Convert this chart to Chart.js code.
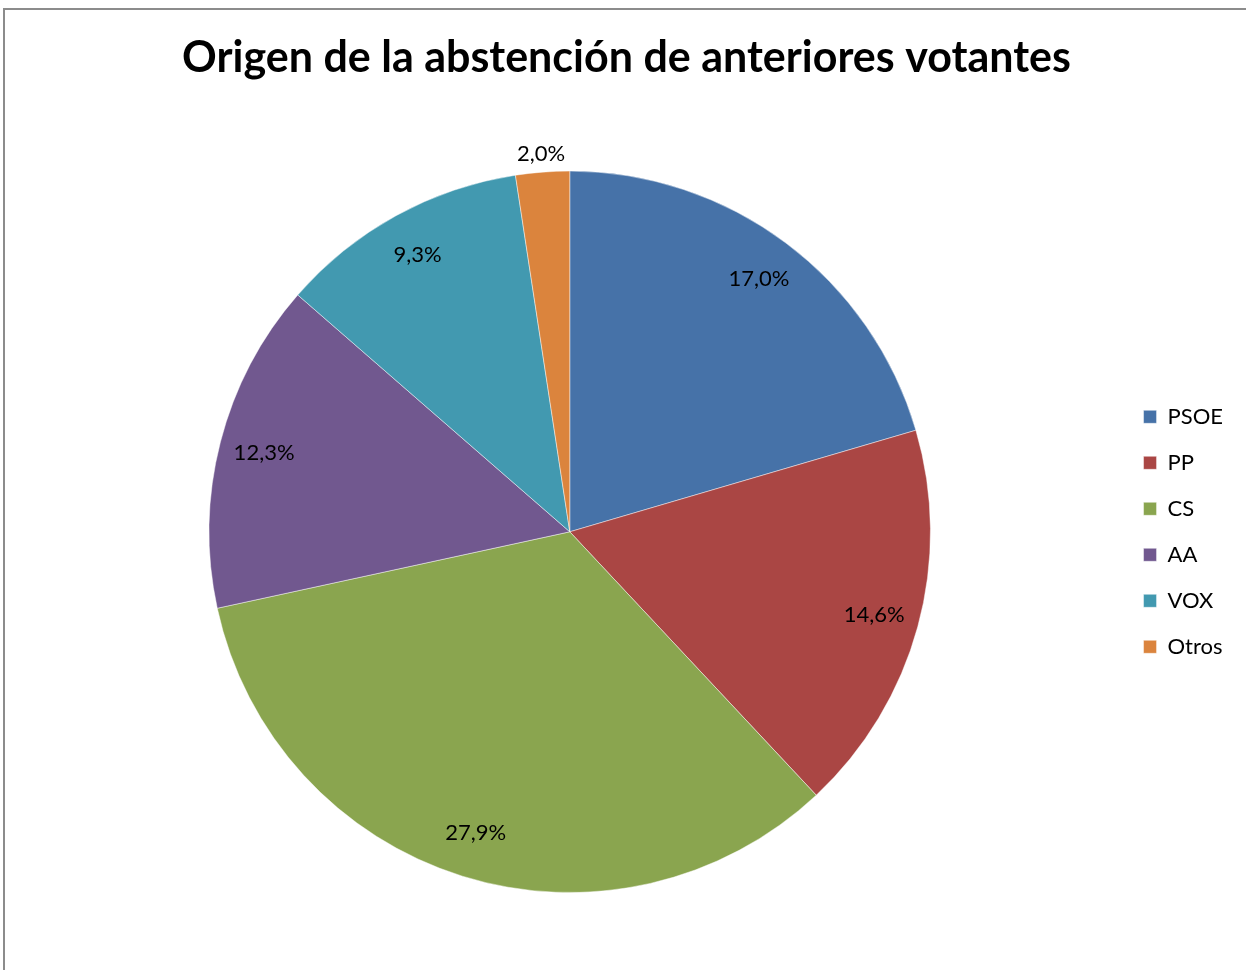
<!DOCTYPE html>
<html>
<head>
<meta charset="utf-8">
<script src="https://cdn.jsdelivr.net/npm/chart.js@4.4.1/dist/chart.umd.min.js"></script>
<style>
  html, body { margin: 0; padding: 0; background: #fff; }
  #wrap { position: relative; width: 1246px; height: 970px; }
  #frame { position: absolute; left: 3px; top: 8px; right: 0; bottom: 0;
           border-left: 2px solid #8c8c8c; border-top: 2px solid #8c8c8c; }
  canvas { position: absolute; left: 0; top: 0; }
</style>
</head>
<body>
<div id="wrap">
  <div id="frame"></div>
  <canvas id="myChart" width="1246" height="970"></canvas>
</div>
<script>
const ctx = document.getElementById('myChart');

// Data
const partidos = ['PSOE', 'PP', 'CS', 'AA', 'VOX', 'Otros'];
const porcentajes = [17.0, 14.6, 27.9, 12.3, 9.3, 2.0];
const colores = ['#4672A8', '#AA4644', '#8AA54F', '#71588F', '#4299B0', '#DB843D'];
const titulo = 'Origen de la abstención de anteriores votantes';

const FONT = 'Lato, "Open Sans", sans-serif';

// Draw the percentage labels; small slices go outside the pie
const labelPlugin = {
    id: 'sliceLabels',
    afterDatasetsDraw(chart) {
        const c = chart.ctx;
        const meta = chart.getDatasetMeta(0);
        const total = porcentajes.reduce((a, b) => a + b, 0);
        c.save();
        c.font = '22px ' + FONT;
        c.fillStyle = '#000';
        c.textAlign = 'center';
        c.textBaseline = 'middle';
        meta.data.forEach((arc, i) => {
            const p = arc.getProps(['x', 'y', 'startAngle', 'endAngle', 'outerRadius'], true);
            const mid = (p.startAngle + p.endAngle) / 2;
            const share = porcentajes[i] / total;
            const r = share < 0.05 ? p.outerRadius + 18 : p.outerRadius * 0.875;
            const text = porcentajes[i].toFixed(1).replace('.', ',') + '%';
            c.fillText(text, p.x + Math.cos(mid) * r, p.y + Math.sin(mid) * r);
        });
        c.restore();
    }
};

new Chart(ctx, {
    type: 'pie',
    data: {
        labels: partidos,
        datasets: [{
            data: porcentajes,
            backgroundColor: colores,
            borderColor: 'rgba(255,255,255,0.45)',
            borderWidth: 1
        }]
    },
    options: {
        responsive: false,
        animation: false,
        layout: { padding: { left: 20, right: 13, top: 0, bottom: 77 } },
        plugins: {
            tooltip: { enabled: false },
            title: {
                display: true,
                text: titulo,
                color: '#000',
                font: { family: FONT, size: 43, weight: 'bold', lineHeight: 1.2 },
                padding: { top: 32, bottom: 87 }
            },
            legend: {
                position: 'right',
                fullSize: false,
                labels: {
                    color: '#000',
                    font: { family: FONT, size: 22 },
                    boxWidth: 13,
                    boxHeight: 13,
                    padding: 24
                }
            }
        }
    },
    plugins: [labelPlugin]
});
</script>
</body>
</html>
